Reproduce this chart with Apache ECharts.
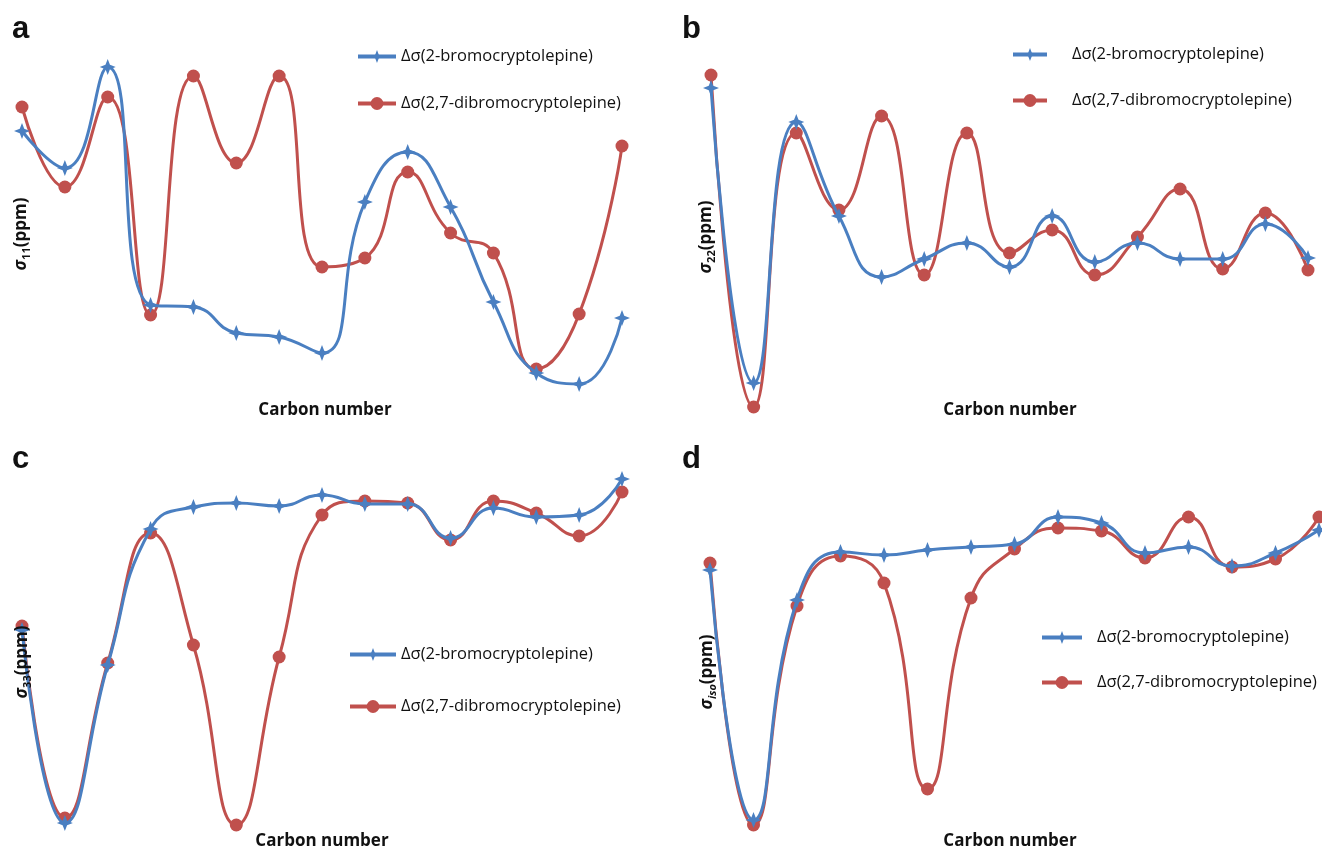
<!DOCTYPE html>
<html>
<head>
<meta charset="utf-8">
<script src="https://cdn.jsdelivr.net/npm/echarts@6/dist/echarts.min.js"></script>
<style>
html,body{margin:0;padding:0;background:#fff;}
#chart{width:1322px;height:851px;}
</style>
</head>
<body>
<div id="chart"></div>
<script>
// Carbon positions (15 carbons, unlabeled in the figure)
const carbons = ['1','2','3','4','5','6','7','8','9','10','11','12','13','14','15'];
const seriesNames = ['Δσ(2-bromocryptolepine)', 'Δσ(2,7-dibromocryptolepine)'];

// Panel a: sigma11 (relative units)
const a_bromo   = [26.9, 23.2, 33.3, 9.5, 9.3, 6.7, 6.3, 4.7, 19.8, 24.8, 19.3, 9.8, 2.7, 1.6, 8.2];
const a_dibromo = [29.3, 21.3, 30.3, 8.5, 32.4, 23.7, 32.4, 13.3, 14.2, 22.8, 16.7, 14.7, 3.1, 8.6, 25.4];
// Panel b: sigma22
const b_bromo   = [33.2, 3.7, 29.8, 20.4, 14.3, 16.1, 17.7, 15.3, 20.4, 15.8, 17.7, 16.1, 16.1, 19.6, 16.2];
const b_dibromo = [34.5, 1.3, 28.7, 21.0, 30.4, 14.5, 28.7, 16.7, 19.0, 14.5, 18.3, 23.1, 15.1, 20.7, 15.0];
// Panel c: sigma33
const c_bromo   = [20.0, 0.7, 16.5, 30.1, 32.3, 32.7, 32.4, 33.5, 32.6, 32.6, 29.2, 32.2, 31.3, 31.5, 35.1];
const c_dibromo = [20.4, 1.2, 16.7, 29.7, 18.5, 0.5, 17.3, 31.5, 32.9, 32.7, 29.0, 32.9, 31.7, 29.4, 33.8];
// Panel d: sigma iso
const d_bromo   = [26.0, 1.0, 23.0, 27.8, 27.5, 28.0, 28.3, 28.6, 31.3, 30.7, 27.7, 28.3, 26.4, 27.7, 30.0];
const d_dibromo = [26.7, 0.5, 22.4, 27.4, 24.7, 4.1, 23.2, 28.1, 30.2, 29.9, 27.2, 31.3, 26.3, 27.1, 31.3];

const panelLetters = ['a', 'b', 'c', 'd'];
const yAxisSubs = ['11', '22', '33', 'iso'];
const xAxisTitle = 'Carbon number';

const BLUE = '#4a7fc1';
const RED = '#c0504d';
const STAR = 'path://M50,0 L64,36 L100,50 L64,64 L50,100 L36,64 L0,50 L36,36 Z';

const grids = [
  {left: 22,  top: 50,  width: 600, height: 350},
  {left: 711, top: 50,  width: 597, height: 370},
  {left: 22,  top: 470, width: 600, height: 360},
  {left: 710, top: 470, width: 609, height: 360}
];
const yMax = [35, 37, 36, 36];
const data = [[a_bromo, a_dibromo], [b_bromo, b_dibromo], [c_bromo, c_dibromo], [d_bromo, d_dibromo]];

const xAxes = grids.map((g, i) => ({type: 'category', gridIndex: i, data: carbons, boundaryGap: false, show: false}));
const yAxes = grids.map((g, i) => ({type: 'value', gridIndex: i, min: 0, max: yMax[i], show: false}));

const series = [];
data.forEach((pair, i) => {
  series.push({
    name: seriesNames[0], type: 'line', xAxisIndex: i, yAxisIndex: i, data: pair[0],
    smooth: 0.5, clip: false, symbol: STAR, symbolSize: 16,
    lineStyle: {color: BLUE, width: 3}, itemStyle: {color: BLUE}, z: 3
  });
  series.push({
    name: seriesNames[1], type: 'line', xAxisIndex: i, yAxisIndex: i, data: pair[1],
    smooth: 0.5, clip: false, symbol: 'circle', symbolSize: 13,
    lineStyle: {color: RED, width: 3}, itemStyle: {color: RED}, z: 2
  });
});

const legendPos = [
  {left: 356, top: 48, itemWidth: 38, itemGap: 30, pad: 0},
  {left: 1011, top: 46, itemWidth: 34, itemGap: 29, pad: 20},
  {left: 348, top: 646, itemWidth: 46, itemGap: 35, pad: 0},
  {left: 1040, top: 629, itemWidth: 40, itemGap: 28, pad: 10}
];
const legends = legendPos.map(p => ({
  left: p.left, top: p.top, orient: 'vertical', padding: 0, itemWidth: p.itemWidth, itemHeight: 16,
  itemGap: p.itemGap, data: seriesNames, selectedMode: false,
  lineStyle: {width: 4},
  textStyle: {fontFamily: 'Open Sans', fontSize: 16.5, color: '#111', padding: [0, 0, 0, p.pad]}
}));

const letterPos = [[12, 14], [682, 14], [12, 444], [682, 444]];
const xTitlePos = [[325, 410], [1010, 410], [322, 841], [1010, 841]];
const yTitlePos = [[21, 234], [706, 237], [22, 662], [707, 672]];

const graphic = [];
panelLetters.forEach((l, i) => {
  graphic.push({type: 'text', left: letterPos[i][0], top: letterPos[i][1], z: 10,
    style: {text: l, font: 'bold 31px "Liberation Sans"', fill: '#111'}});
  graphic.push({type: 'text', x: xTitlePos[i][0], y: xTitlePos[i][1], z: 10,
    style: {text: xAxisTitle, font: 'bold 17px "Open Sans"', fill: '#111', align: 'center', verticalAlign: 'middle'}});
  const subItalic = yAxisSubs[i] === 'iso';
  graphic.push({type: 'text', x: yTitlePos[i][0], y: yTitlePos[i][1], rotation: Math.PI / 2, z: 10,
    style: {
      text: '{s|σ}{sub|' + yAxisSubs[i] + '}{n|(ppm)}',
      align: 'center', verticalAlign: 'middle',
      rich: {
        s: {fontFamily: 'Open Sans', fontWeight: 'bold', fontStyle: 'italic', fontSize: 17, lineHeight: 22, verticalAlign: 'middle', fill: '#111'},
        sub: {fontFamily: 'Open Sans', fontWeight: 'bold', fontStyle: subItalic ? 'italic' : 'normal', fontSize: 11, lineHeight: 22, verticalAlign: 'bottom', fill: '#111'},
        n: {fontFamily: 'Open Sans', fontWeight: 'bold', fontSize: 17, lineHeight: 22, verticalAlign: 'middle', fill: '#111'}
      }
    }});
});

const chart = echarts.init(document.getElementById('chart'), null, {renderer: 'canvas'});
chart.setOption({
  animation: false,
  backgroundColor: '#fff',
  grid: grids,
  xAxis: xAxes,
  yAxis: yAxes,
  legend: legends,
  series: series,
  graphic: graphic
});
</script>
</body>
</html>
